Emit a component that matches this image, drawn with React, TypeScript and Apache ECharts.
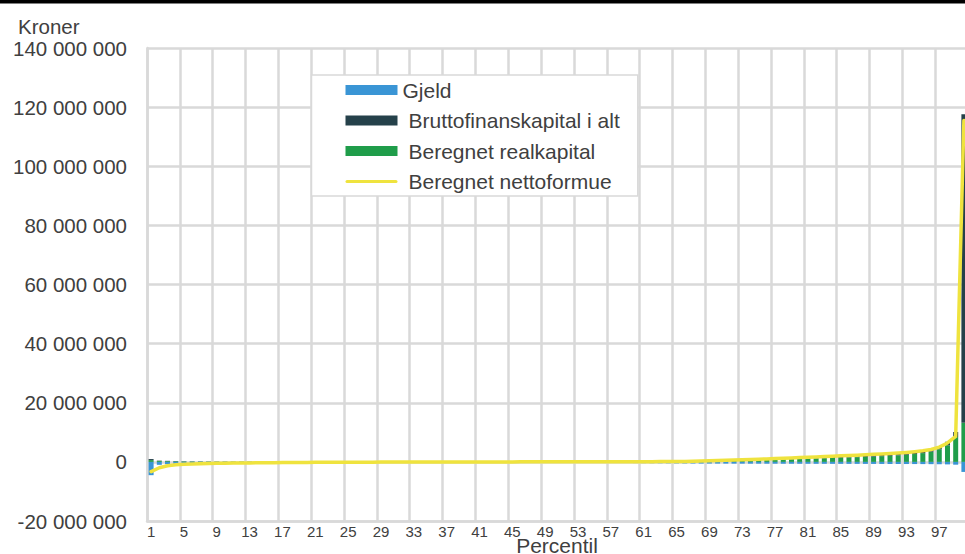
import React, { useEffect, useRef } from "react";
import * as echarts from "echarts";

// Values in millions of kroner, percentiles 1..100
const percentiles: string[] = Array.from({ length: 100 }, (_, i) => String(i + 1));

const gjeld: number[] = [
  -4.5, -1.0, -0.8, -0.7, -0.6, -0.55, -0.5, -0.48, -0.46, -0.44,
  -0.42, -0.4, -0.39, -0.38, -0.37, -0.36, -0.35, -0.34, -0.33, -0.32,
  -0.31, -0.3, -0.3, -0.29, -0.29, -0.28, -0.28, -0.27, -0.27, -0.26,
  -0.26, -0.25, -0.25, -0.25, -0.25, -0.25, -0.25, -0.25, -0.25, -0.25,
  -0.26, -0.26, -0.27, -0.27, -0.28, -0.28, -0.29, -0.29, -0.3, -0.3,
  -0.31, -0.32, -0.33, -0.34, -0.35, -0.36, -0.37, -0.38, -0.39, -0.4,
  -0.42, -0.44, -0.46, -0.48, -0.5, -0.52, -0.54, -0.56, -0.57, -0.58,
  -0.59, -0.6, -0.6, -0.61, -0.61, -0.62, -0.62, -0.63, -0.63, -0.64,
  -0.64, -0.65, -0.65, -0.66, -0.66, -0.67, -0.67, -0.68, -0.69, -0.7,
  -0.71, -0.72, -0.73, -0.74, -0.75, -0.77, -0.8, -0.85, -0.95, -3.4,
];

const bruttofinanskapital: number[] = [
  0.35, 0.12, 0.1, 0.08, 0.07, 0.06, 0.06, 0.05, 0.05, 0.05,
  0.05, 0.05, 0.05, 0.05, 0.05, 0.05, 0.05, 0.05, 0.05, 0.05,
  0.05, 0.05, 0.05, 0.05, 0.05, 0.05, 0.05, 0.05, 0.05, 0.05,
  0.05, 0.05, 0.05, 0.05, 0.05, 0.05, 0.05, 0.05, 0.05, 0.05,
  0.05, 0.05, 0.05, 0.05, 0.05, 0.05, 0.05, 0.05, 0.05, 0.05,
  0.05, 0.05, 0.05, 0.06, 0.06, 0.06, 0.06, 0.06, 0.06, 0.06,
  0.07, 0.08, 0.09, 0.1, 0.1, 0.11, 0.12, 0.13, 0.14, 0.15,
  0.16, 0.17, 0.18, 0.2, 0.22, 0.24, 0.26, 0.28, 0.3, 0.32,
  0.34, 0.36, 0.38, 0.4, 0.42, 0.44, 0.46, 0.48, 0.5, 0.52,
  0.55, 0.58, 0.62, 0.66, 0.72, 0.8, 0.95, 1.2, 1.7, 104.4,
];

const realkapital: number[] = [
  0.6, 0.3, 0.25, 0.2, 0.15, 0.12, 0.1, 0.09, 0.08, 0.07,
  0.06, 0.06, 0.05, 0.05, 0.05, 0.05, 0.05, 0.05, 0.05, 0.05,
  0.05, 0.05, 0.05, 0.05, 0.05, 0.05, 0.05, 0.05, 0.05, 0.05,
  0.05, 0.05, 0.05, 0.05, 0.05, 0.06, 0.06, 0.06, 0.06, 0.06,
  0.07, 0.07, 0.07, 0.08, 0.08, 0.08, 0.09, 0.09, 0.1, 0.1,
  0.11, 0.11, 0.12, 0.12, 0.13, 0.14, 0.15, 0.16, 0.17, 0.18,
  0.19, 0.2, 0.21, 0.22, 0.24, 0.27, 0.3, 0.34, 0.38, 0.42,
  0.47, 0.52, 0.57, 0.62, 0.68, 0.74, 0.8, 0.86, 0.93, 1.0,
  1.07, 1.15, 1.23, 1.31, 1.4, 1.49, 1.59, 1.69, 1.8, 1.92,
  2.05, 2.2, 2.4, 2.65, 2.95, 3.45, 4.25, 5.6, 8.4, 13.2,
];

const nettoformue: number[] = [
  -3.3, -2.0, -1.3, -1.0, -0.8, -0.7, -0.6, -0.55, -0.5, -0.45,
  -0.4, -0.37, -0.34, -0.31, -0.28, -0.26, -0.24, -0.22, -0.2, -0.18,
  -0.16, -0.15, -0.14, -0.13, -0.12, -0.11, -0.1, -0.09, -0.08, -0.07,
  -0.06, -0.05, -0.05, -0.04, -0.04, -0.03, -0.03, -0.02, -0.02, -0.01,
  -0.01, 0, 0, 0, 0, 0.01, 0.01, 0.01, 0.02, 0.02,
  0.02, 0.03, 0.03, 0.03, 0.04, 0.04, 0.05, 0.05, 0.06, 0.06,
  0.07, 0.08, 0.09, 0.1, 0.12, 0.16, 0.22, 0.3, 0.38, 0.46,
  0.54, 0.62, 0.71, 0.8, 0.9, 1.0, 1.1, 1.2, 1.32, 1.44,
  1.56, 1.68, 1.8, 1.92, 2.04, 2.16, 2.28, 2.4, 2.54, 2.68,
  2.84, 3.0, 3.2, 3.45, 3.75, 4.2, 5.0, 6.4, 8.6, 115.5,
];

const yMin = -20;
const yMax = 140;
const yStep = 20;

const FONT = "'Liberation Sans', Arial, sans-serif";
const TEXT = "#404040";
const GRID = "#d9d9d9";
const LINE_ICON =
  "path://M1.5,0 L50.5,0 A1.5,1.5 0 0 1 50.5,3 L1.5,3 A1.5,1.5 0 0 1 1.5,0 Z";

export default function App() {
  const ref = useRef<HTMLDivElement>(null);

  useEffect(() => {
    if (!ref.current) return;
    const chart = echarts.init(ref.current, undefined, { renderer: "svg" });
    chart.setOption({
      animation: false,
      backgroundColor: "#ffffff",
      textStyle: { fontFamily: FONT },
      grid: {
        left: 147,
        right: -3,
        top: 48,
        bottom: 33,
        containLabel: false,
        outerBoundsMode: "none",
      },
      graphic: [
        { type: "rect", left: 0, top: 0, shape: { width: 965, height: 3.5 }, style: { fill: "#000" } },
        {
          type: "text",
          x: 18,
          y: 26,
          style: { text: "Kroner", fill: TEXT, fontSize: 20.5, fontFamily: FONT, textVerticalAlign: "middle" },
        },
        {
          type: "text",
          x: 557,
          y: 545,
          z: 10,
          style: {
            text: "Percentil",
            fill: TEXT,
            fontSize: 21,
            fontFamily: FONT,
            textAlign: "center",
            textVerticalAlign: "middle",
          },
        },
      ],
      legend: {
        orient: "vertical",
        left: 311.5,
        top: 75,
        itemWidth: 52,
        itemHeight: 10,
        itemGap: 9.5,
        padding: [4.5, 18, 4, 34],
        backgroundColor: "#ffffff",
        borderColor: GRID,
        borderWidth: 1.5,
        textStyle: { fontSize: 21, color: TEXT, fontFamily: FONT },
        data: [
          { name: "Gjeld", icon: "rect" },
          { name: "Bruttofinanskapital i alt", icon: "rect", textStyle: { padding: [0, 0, 0, 6] } },
          { name: "Beregnet realkapital", icon: "rect", textStyle: { padding: [0, 0, 0, 6] } },
          { name: "Beregnet nettoformue", icon: LINE_ICON, textStyle: { padding: [0, 0, 0, 6] } },
        ],
      },
      xAxis: {
        type: "category",
        data: percentiles,
        axisLine: { onZero: false, lineStyle: { color: GRID, width: 2.5 } },
        axisTick: { show: false },
        axisLabel: { interval: 3, fontSize: 15, color: TEXT, margin: 3, fontFamily: FONT },
        splitLine: { show: true, interval: 3, lineStyle: { color: GRID, width: 2.5 } },
      },
      yAxis: {
        type: "value",
        min: yMin,
        max: yMax,
        interval: yStep,
        axisLine: { show: true, lineStyle: { color: GRID, width: 2.5 } },
        axisTick: { show: false },
        axisLabel: {
          fontSize: 20.5,
          color: TEXT,
          margin: 20,
          fontFamily: FONT,
          formatter: (v: number) => (v === 0 ? "0" : `${v} 000 000`),
        },
        splitLine: { show: true, lineStyle: { color: GRID, width: 2.5 } },
      },
      series: [
        {
          name: "Gjeld",
          type: "bar",
          stack: "total",
          barWidth: 5,
          itemStyle: { color: "#3a95d5" },
          data: gjeld,
        },
        {
          name: "Beregnet realkapital",
          type: "bar",
          stack: "total",
          barWidth: 5,
          itemStyle: { color: "#1f9d4a" },
          data: realkapital,
        },
        {
          name: "Bruttofinanskapital i alt",
          type: "bar",
          stack: "total",
          barWidth: 5,
          itemStyle: { color: "#25414a" },
          data: bruttofinanskapital,
        },
        {
          name: "Beregnet nettoformue",
          type: "line",
          symbol: "none",
          showSymbol: false,
          z: 5,
          itemStyle: { color: "#efe33e" },
          lineStyle: { color: "#efe33e", width: 3.5, cap: "round", join: "round" },
          data: nettoformue,
        },
      ],
    });
    return () => chart.dispose();
  }, []);

  return (
    <div
      ref={ref}
      style={{ position: "fixed", left: 0, top: 0, width: 965, height: 554, background: "#fff" }}
    />
  );
}
